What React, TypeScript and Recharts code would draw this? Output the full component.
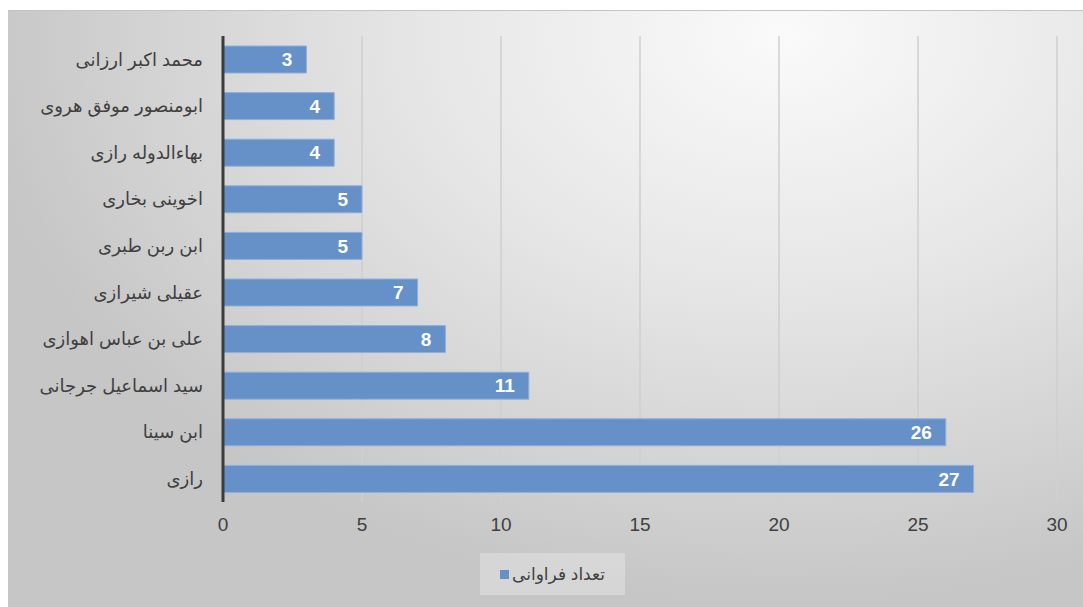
import { Bar, BarChart, CartesianGrid, LabelList, Legend, XAxis, YAxis } from "recharts";

// values, top bar first
const NAMES = [
  "محمد اکبر ارزانی",
  "ابومنصور موفق هروی",
  "بهاءالدوله رازی",
  "اخوینی بخاری",
  "ابن ربن طبری",
  "عقیلی شیرازی",
  "علی بن عباس اهوازی",
  "سید اسماعیل جرجانی",
  "ابن سینا",
  "رازی",
];
const COUNTS = [3, 4, 4, 5, 5, 7, 8, 11, 26, 27];
const X_TICKS = [0, 5, 10, 15, 20, 25, 30];
const SERIES_NAME = "تعداد فراوانی";

const BAR_FILL = "#6690c8";
const BAR_EDGE = "#8fb0dc";
const TEXT = "#404040";
const GRID = "#cfcfcf";
const FONT = "'Liberation Sans', 'DejaVu Sans', Arial, sans-serif";

const data = NAMES.map((name, i) => ({ name, count: COUNTS[i] }));

function renderLegend() {
  return (
    <div
      style={{
        width: 145,
        height: 42,
        background: "rgba(255,255,255,0.28)",
        display: "flex",
        alignItems: "center",
        justifyContent: "center",
        gap: 3,
        fontFamily: FONT,
        fontSize: 17,
        color: TEXT,
      }}
    >
      <span style={{ width: 9, height: 9, background: BAR_FILL, display: "inline-block" }} />
      <span>{SERIES_NAME}</span>
    </div>
  );
}

export default function App() {
  return (
    <div style={{ position: "fixed", left: 0, top: 0, width: 1083, height: 607, background: "#fff" }}>
      <div
        style={{
          position: "absolute",
          left: 8,
          top: 10,
          right: 0,
          bottom: 0,
          borderTop: "1px solid #c4c4c4",
          background:
            "radial-gradient(ellipse 75% 95% at 72% 4%, #fafafa 0%, #e6e6e6 45%, #d2d2d2 80%, #c6c6c6 100%)",
        }}
      />
      <div style={{ position: "absolute", left: 0, top: 0 }}>
        <BarChart
          width={1083}
          height={607}
          data={data}
          layout="vertical"
          margin={{ top: 36, right: 26, bottom: 33, left: 0 }}
          barSize={27}
        >
          <CartesianGrid horizontal={false} stroke={GRID} strokeWidth={1.5} />
          <XAxis
            type="number"
            domain={[0, 30]}
            ticks={X_TICKS}
            axisLine={false}
            tickLine={false}
            tickMargin={10}
            height={30}
            tick={{ fill: TEXT, fontSize: 19, fontFamily: FONT }}
          />
          <YAxis
            type="category"
            dataKey="name"
            width={223}
            axisLine={{ stroke: "#3c3c3c", strokeWidth: 3 }}
            tickLine={false}
            tickMargin={14}
            tick={{ fill: TEXT, fontSize: 18, fontFamily: FONT }}
          />
          <Legend
            content={renderLegend}
            wrapperStyle={{ left: 480, top: 553, width: 145, height: 42 }}
          />
          <Bar
            dataKey="count"
            name={SERIES_NAME}
            fill={BAR_FILL}
            stroke={BAR_EDGE}
            strokeWidth={1}
            isAnimationActive={false}
          >
            <LabelList
              dataKey="count"
              position="insideRight"
              offset={14}
              fill="#ffffff"
              style={{ fontSize: 19, fontWeight: 700, fontFamily: FONT }}
            />
          </Bar>
        </BarChart>
      </div>
    </div>
  );
}
